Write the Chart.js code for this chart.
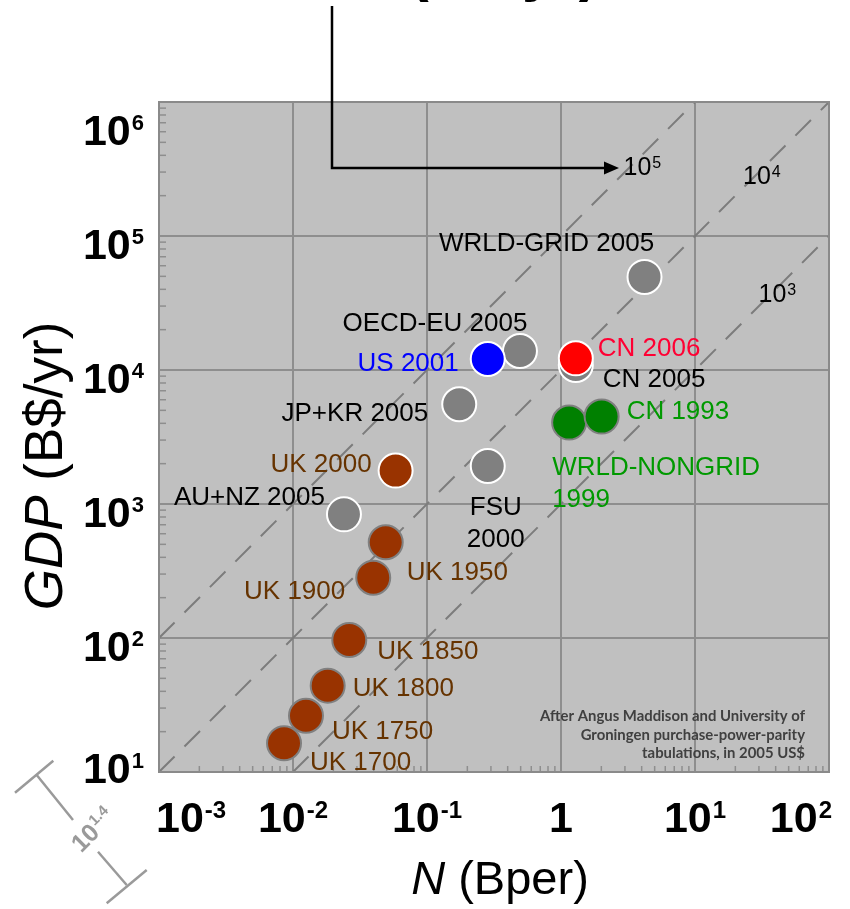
<!DOCTYPE html>
<html><head><meta charset="utf-8">
<script src="https://cdn.jsdelivr.net/npm/chart.js@4.4.1/dist/chart.umd.min.js"></script>
<style>html,body{margin:0;padding:0;background:#fff;}canvas{display:block;}</style>
</head><body>
<canvas id="c" width="850" height="909"></canvas>
<script>
// ---------------- DATA ----------------
const ukLabels = ['UK 1700','UK 1750','UK 1800','UK 1850','UK 1900','UK 1950','UK 2000'];
const ukPop    = [0.00857, 0.0125, 0.01815, 0.0263, 0.0397, 0.0492, 0.0583];   // N, Bper
const ukGdp    = [16.4, 26.3, 44.1, 96.6, 282, 518, 1775];                      // GDP, B$/yr

const regionLabels = ['WRLD-GRID 2005','OECD-EU 2005','JP+KR 2005','CN 2005','FSU\n2000','AU+NZ 2005'];
const regionPop    = [4.2, 0.494, 0.174, 1.29, 0.284, 0.0240];
const regionGdp    = [49500, 13870, 5550, 10890, 1923, 837];

const usLabels = ['US 2001'];
const usPop    = [0.284];
const usGdp    = [12080];

const cnLabels = ['CN 2006'];
const cnPop    = [1.29];
const cnGdp    = [12220];

const greenLabels = ['WRLD-NONGRID\n1999','CN 1993'];
const greenPop    = [1.15, 2.01];
const greenGdp    = [4050, 4490];

const xTickValues = [1e-3, 1e-2, 1e-1, 1, 1e1, 1e2];
const xTickLabels = [['10','-3'],['10','-2'],['10','-1'],['1',''],['10','1'],['10','2']];
const yTickValues = [1e1, 1e2, 1e3, 1e4, 1e5, 1e6];
const yTickLabels = [['10','1'],['10','2'],['10','3'],['10','4'],['10','5'],['10','6']];

const isoValues = [1e5, 1e4, 1e3];            // GDP per N
const isoLabels = [['10','5'],['10','4'],['10','3']];

const xTitle = ['N', ' (Bper)'];
const yTitle = ['GDP', ' (B$/yr)'];
const noteLines = ['After Angus Maddison and University of','Groningen purchase-power-parity','tabulations, in 2005 US$'];
const scaleBarLabel = ['10','1.4'];
const topText = 'GDP (B$/yr)';

// ---------------- LAYOUT / STYLE ----------------
const FF = '"Liberation Sans", Arial, Helvetica, sans-serif';
const labelLayout = {
  'WRLD-GRID 2005': {dx:-98, dy:-35, align:'center'},
  'OECD-EU 2005': {dx:-85, dy:-29, align:'center'},
  'US 2001': {dx:-29, dy:3, align:'right'},
  'CN 2006': {dx:22, dy:-12, align:'left'},
  'CN 2005': {dx:27, dy:13, align:'left'},
  'JP+KR 2005': {dx:-31, dy:7, align:'right'},
  'CN 1993': {dx:25, dy:-7, align:'left'},
  'WRLD-NONGRID\n1999': {dx:-17, dy:43, align:'left'},
  'UK 2000': {dx:-24, dy:-8, align:'right'},
  'FSU\n2000': {dx:8, dy:40, align:'center'},
  'AU+NZ 2005': {dx:-19, dy:-19, align:'right'},
  'UK 1950': {dx:21, dy:28, align:'left'},
  'UK 1900': {dx:-28, dy:12, align:'right'},
  'UK 1850': {dx:28, dy:10, align:'left'},
  'UK 1800': {dx:25, dy:1, align:'left'},
  'UK 1750': {dx:26, dy:14, align:'left'},
  'UK 1700': {dx:26, dy:17, align:'left'}
};
const isoLabelPos = [{x:623.5, y:175}, {x:743, y:184}, {x:758.5, y:302}];

function pts(xs, ys){ return xs.map((v,i)=>({x:v, y:ys[i]})); }

function drawPow(ctx, base, exp, x, baseline, bf, sf, rise, align){
  ctx.font = bf; const wb = ctx.measureText(base).width;
  ctx.font = sf; const we = exp ? ctx.measureText(exp).width : 0;
  const w = wb + we;
  let x0 = x;
  if (align === 'center') x0 = x - w/2; else if (align === 'right') x0 = x - w;
  ctx.textAlign = 'left'; ctx.textBaseline = 'alphabetic';
  ctx.font = bf; ctx.fillText(base, x0, baseline);
  if (exp){ ctx.font = sf; ctx.fillText(exp, x0 + wb + 1, baseline - rise); }
  return w;
}
function powWidth(ctx, base, exp, bf, sf){
  ctx.font = bf; const wb = ctx.measureText(base).width;
  ctx.font = sf; const we = exp ? ctx.measureText(exp).width : 0;
  return wb + we + (exp?1:0);
}
function seg(ctx,x1,y1,x2,y2){ ctx.beginPath(); ctx.moveTo(x1,y1); ctx.lineTo(x2,y2); ctx.stroke(); }

const framePlugin = {
  id:'frame',
  beforeDatasetsDraw(chart){
    const {ctx, chartArea:a, scales:{x, y}} = chart;
    ctx.save();
    ctx.fillStyle = '#c0c0c0';
    ctx.fillRect(a.left, a.top, a.right-a.left, a.bottom-a.top);
    // major grid
    ctx.strokeStyle = '#8e8e8e'; ctx.lineWidth = 2;
    xTickValues.forEach(v=>{ const p = x.getPixelForValue(v); seg(ctx,p,a.top,p,a.bottom); });
    yTickValues.forEach(v=>{ const p = y.getPixelForValue(v); seg(ctx,a.left,p,a.right,p); });
    // minor ticks
    ctx.lineWidth = 1.5;
    for (let e=-3; e<2; e++) for (let m=2; m<10; m++){
      const p = x.getPixelForValue(m*Math.pow(10,e)); seg(ctx,p,a.bottom,p,a.bottom-6);
    }
    for (let e=1; e<6; e++) for (let m=2; m<10; m++){
      const p = y.getPixelForValue(m*Math.pow(10,e)); seg(ctx,a.left,p,a.left+7,p);
    }
    // iso lines
    ctx.save();
    ctx.beginPath(); ctx.rect(a.left,a.top,a.right-a.left,a.bottom-a.top); ctx.clip();
    ctx.setLineDash([22,14]); ctx.strokeStyle = '#7c7c7c'; ctx.lineWidth = 2;
    isoValues.forEach(k=>{
      const n0 = Math.max(x.min, y.min/k), n1 = Math.min(x.max, y.max/k);
      seg(ctx, x.getPixelForValue(n0), y.getPixelForValue(k*n0), x.getPixelForValue(n1), y.getPixelForValue(k*n1));
    });
    ctx.restore();
    // border
    ctx.strokeStyle = '#8a8a8a'; ctx.lineWidth = 2;
    ctx.strokeRect(a.left, a.top, a.right-a.left, a.bottom-a.top);
    // small white mark on right edge
    ctx.strokeStyle = '#ffffff'; ctx.lineWidth = 2;
    seg(ctx, a.right+2, y.getPixelForValue(3e2)+5, a.right+6, y.getPixelForValue(3e2)+5);
    // source note
    ctx.fillStyle = '#404040';
    let fs = 14; ctx.font = 'bold '+fs+'px Lato, "Open Sans", sans-serif';
    const w1 = ctx.measureText(noteLines[0]).width; fs = fs*265/w1;
    ctx.font = 'bold '+fs.toFixed(2)+'px Lato, "Open Sans", sans-serif';
    ctx.textAlign = 'right'; ctx.textBaseline = 'alphabetic';
    noteLines.forEach((t,i)=> ctx.fillText(t, a.right-24, a.bottom-51+i*18.5));
    ctx.restore();
  }
};

const labelColors = ['#ff0033', '#0000ff', '#000000', '#009900', '#663300'];
const labelPlugin = {
  id:'labels',
  afterDatasetsDraw(chart){
    const {ctx} = chart;
    ctx.save();
    ctx.font = '26px '+FF; ctx.textBaseline = 'alphabetic';
    chart.data.datasets.forEach((ds, di)=>{
      const meta = chart.getDatasetMeta(di);
      ds.labels.forEach((lab, i)=>{
        const el = meta.data[i]; const L = labelLayout[lab] || {dx:22,dy:0,align:'left'};
        ctx.fillStyle = labelColors[di]; ctx.textAlign = L.align;
        lab.split('\n').forEach((line, k)=> ctx.fillText(line, el.x + L.dx, el.y + L.dy + 9.3 + k*32));
      });
    });
    // iso labels
    ctx.fillStyle = '#000';
    isoLabels.forEach((l,i)=> drawPow(ctx, l[0], l[1], isoLabelPos[i].x, isoLabelPos[i].y, '25px '+FF, '16px '+FF, 7.5, 'left'));
    ctx.restore();
  },
  afterDraw(chart){
    const {ctx, chartArea:a, scales:{x, y}} = chart;
    ctx.save();
    ctx.fillStyle = '#000';
    // y tick labels
    const ybf = 'bold 43px '+FF, ysf = 'bold 22px '+FF;
    yTickValues.forEach((v,i)=>{
      let c = y.getPixelForValue(v) + 8;
      c = Math.min(Math.max(c, a.top+28), a.bottom-4);
      drawPow(ctx, yTickLabels[i][0], yTickLabels[i][1], a.left-16, c+15, ybf, ysf, 15, 'right');
    });
    // x tick labels
    const xbf = 'bold 43px '+FF, xsf = 'bold 24px '+FF;
    xTickValues.forEach((v,i)=>{
      const w = powWidth(ctx, xTickLabels[i][0], xTickLabels[i][1], xbf, xsf);
      let x0 = x.getPixelForValue(v) - w/2;
      x0 = Math.min(Math.max(x0, a.left-3), a.right+3-w);
      drawPow(ctx, xTickLabels[i][0], xTickLabels[i][1], x0, a.bottom+60, xbf, xsf, 14, 'left');
    });
    // x title
    ctx.font = 'italic 47px '+FF; const wn = ctx.measureText(xTitle[0]).width;
    ctx.font = '47px '+FF; const wr = ctx.measureText(xTitle[1]).width;
    let xs = (a.left+a.right)/2 + 6 - (wn+wr)/2;
    ctx.textAlign='left'; ctx.textBaseline='alphabetic';
    ctx.font = 'italic 47px '+FF; ctx.fillText(xTitle[0], xs, a.bottom+122);
    ctx.font = '47px '+FF; ctx.fillText(xTitle[1], xs+wn, a.bottom+122);
    // y title
    ctx.save();
    ctx.translate(62, (a.top+a.bottom)/2 + 29); ctx.rotate(-Math.PI/2);
    ctx.font = 'italic 53px '+FF; const wg = ctx.measureText(yTitle[0]).width;
    ctx.font = '53px '+FF; const wb2 = ctx.measureText(yTitle[1]).width;
    const ys0 = -(wg+wb2)/2;
    ctx.font = 'italic 53px '+FF; ctx.fillText(yTitle[0], ys0, 0);
    ctx.font = '53px '+FF; ctx.fillText(yTitle[1], ys0+wg, 0);
    ctx.restore();
    // clipped text at top + arrow
    ctx.font = 'bold 60px '+FF; ctx.textAlign='left';
    ctx.fillText(topText, 262, -10);
    ctx.strokeStyle = '#000'; ctx.lineWidth = 2.5; ctx.lineJoin='miter';
    ctx.beginPath(); ctx.moveTo(332, 6); ctx.lineTo(332, 168); ctx.lineTo(606, 168); ctx.stroke();
    ctx.beginPath(); ctx.moveTo(619,168); ctx.lineTo(604,161.5); ctx.lineTo(604,174.5); ctx.closePath(); ctx.fill();
    // scale bar (10^1.4)
    ctx.strokeStyle = '#9a9a9a'; ctx.fillStyle = '#9a9a9a'; ctx.lineWidth = 2.5;
    seg(ctx, 15, 792.7, 53.3, 760.7);
    seg(ctx, 36.7, 775, 73, 820);
    seg(ctx, 98, 851.7, 126.7, 885);
    seg(ctx, 106.7, 903.3, 146.7, 870);
    ctx.save(); ctx.translate(92, 830); ctx.rotate(-Math.PI/4);
    drawPow(ctx, scaleBarLabel[0], scaleBarLabel[1], 0, 9, 'bold 25px '+FF, 'bold 15px '+FF, 10, 'center');
    ctx.restore();
    ctx.restore();
  }
};

const ptStyle = (bg, border) => ({
  backgroundColor: bg, borderColor: border, pointBackgroundColor: bg, pointBorderColor: border,
  pointRadius: 17, pointHoverRadius: 17, pointBorderWidth: 2, pointHoverBorderWidth: 2, showLine:false
});

new Chart(document.getElementById('c'), {
  type: 'scatter',
  data: {
    datasets: [
      Object.assign({label:'CN 2006', labels: cnLabels, data: pts(cnPop, cnGdp)}, ptStyle('#ff0000', '#ffffff')),
      Object.assign({label:'US 2001', labels: usLabels, data: pts(usPop, usGdp)}, ptStyle('#0000ff', '#ffffff')),
      Object.assign({label:'Regions', labels: regionLabels, data: pts(regionPop, regionGdp)}, ptStyle('#808080', '#ffffff')),
      Object.assign({label:'Green', labels: greenLabels, data: pts(greenPop, greenGdp)}, ptStyle('#008000', '#7f7f7f')),
      Object.assign({label:'UK', labels: ukLabels, data: pts(ukPop, ukGdp)},
        ptStyle('#993300', ukLabels.map(l => l === 'UK 2000' ? '#ffffff' : '#808080')))
    ]
  },
  options: {
    responsive: false, animation: false,
    layout: { padding: { left: 159, top: 102, right: 21, bottom: 137 } },
    plugins: { legend: {display:false}, tooltip: {enabled:false} },
    events: [],
    scales: {
      x: { type:'logarithmic', min:1e-3, max:1e2, display:false },
      y: { type:'logarithmic', min:1e1, max:1e6, display:false }
    }
  },
  plugins: [framePlugin, labelPlugin]
});
</script>
</body></html>
